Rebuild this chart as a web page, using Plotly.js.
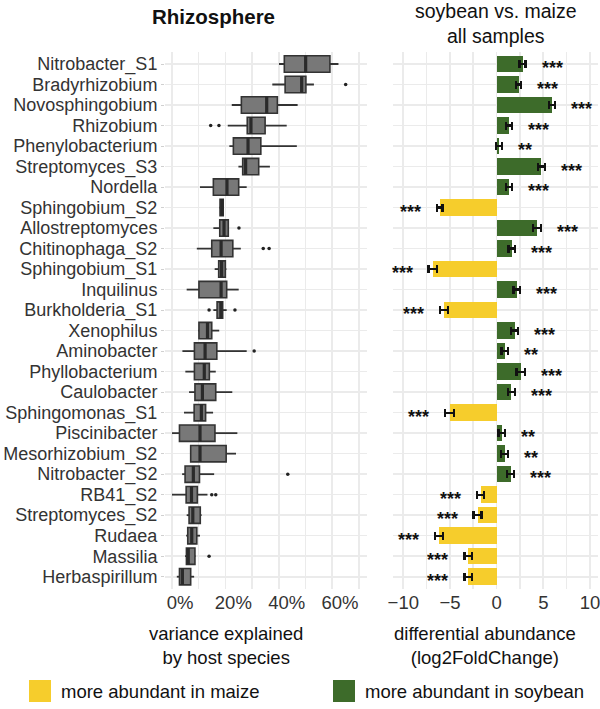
<!DOCTYPE html>
<html>
<head>
<meta charset="utf-8">
<script src="https://cdn.plot.ly/plotly-3.0.1.min.js"></script>
<style>html,body{margin:0;padding:0;background:#fff;}#chart{width:600px;height:709px;}</style>
</head>
<body>
<div id="chart"></div>
<script>
// ---- data ----
const categories = ["Nitrobacter_S1","Bradyrhizobium","Novosphingobium","Rhizobium","Phenylobacterium",
  "Streptomyces_S3","Nordella","Sphingobium_S2","Allostreptomyces","Chitinophaga_S2","Sphingobium_S1",
  "Inquilinus","Burkholderia_S1","Xenophilus","Aminobacter","Phyllobacterium","Caulobacter",
  "Sphingomonas_S1","Piscinibacter","Mesorhizobium_S2","Nitrobacter_S2","RB41_S2","Streptomyces_S2",
  "Rudaea","Massilia","Herbaspirillum"];
// variance explained by host species (%), box statistics
const lowerWhisker = [40.1,37.6,22.4,20.9,21.5,24.9,10.5,17.8,15.5,9.3,16.0,5.5,15.5,9.8,3.9,5.0,6.4,4.5,0.0,6.8,3.8,0.0,5.5,5.3,4.9,1.8];
const q1           = [42.1,42.4,26.0,28.2,23.0,26.5,15.5,18.0,17.9,14.9,17.5,10.1,16.9,10.1,8.4,8.4,8.6,8.3,2.8,7.0,4.9,5.3,6.4,5.9,5.4,2.8];
const medianVal    = [50.1,48.6,35.5,29.6,28.5,27.6,20.6,18.7,19.5,18.4,18.6,18.4,18.3,13.3,12.4,12.1,11.4,11.0,10.5,10.5,8.0,7.3,7.8,7.4,6.1,3.9];
const q3           = [59.2,50.2,39.5,34.9,33.3,32.5,25.0,19.2,21.1,22.8,20.0,20.5,19.0,14.9,16.8,14.0,16.4,12.6,16.1,20.3,10.3,9.5,10.6,9.3,8.6,7.0];
const upperWhisker = [62.4,53.2,47.1,43.0,46.8,36.7,28.0,19.4,21.3,25.8,20.4,25.0,20.5,17.7,28.0,16.4,22.6,15.4,24.5,24.0,15.8,13.3,11.1,10.5,8.8,8.3];
const outlierCategory = ["Bradyrhizobium","Rhizobium","Rhizobium","Allostreptomyces","Chitinophaga_S2","Chitinophaga_S2",
  "Burkholderia_S1","Burkholderia_S1","Aminobacter","Nitrobacter_S2","RB41_S2","RB41_S2","Massilia"];
const outlierValue = [65.1,14.5,17.6,25.1,34.2,36.4,13.9,23.6,30.8,43.4,14.9,16.4,13.9];
// differential abundance (log2FoldChange), soybean vs. maize
const log2FC = [2.78,2.35,5.93,1.32,0.25,4.78,1.32,-6.11,4.32,1.64,-6.86,2.14,-5.64,1.93,0.89,2.57,1.57,-5.04,0.57,0.86,1.50,-1.71,-2.04,-6.18,-3.04,-3.04];
const stdErr = [0.32,0.28,0.36,0.34,0.32,0.36,0.34,0.32,0.40,0.36,0.43,0.34,0.43,0.39,0.36,0.45,0.39,0.45,0.36,0.38,0.39,0.36,0.43,0.43,0.41,0.41];
const signif = ["***","***","***","***","**","***","***","***","***","***","***","***","***","***","**","***","***","***","**","**","***","***","***","***","***","***"];
const pctTicks = [0,20,40,60];
const pctTickLabels = ["0%","20%","40%","60%"];
const lfcTicks = [-10,-5,0,5,10];
const legendNames = ["more abundant in maize","more abundant in soybean"];
const panelTitles = ["Rhizosphere","soybean vs. maize<br>all samples"];
const axisTitles = ["variance explained<br>by host species","differential abundance<br>(log2FoldChange)"];

// ---- styles ----
const FONT = "Liberation Sans, Arial, Helvetica, sans-serif";
const GRID = "#ebebeb";
const BOXFILL = "#787878", BOXLINE = "#333333";
const YELLOW = "#f6cd2c", GREEN = "#3d6b2a";
const W = 600, H = 709;
const px = v => v / W, py = v => 1 - v / H;

const idx = categories.map((_, i) => i);
const catIndex = c => categories.indexOf(c);

// whiskers
const wx = [], wy = [];
idx.forEach(i => { wx.push(lowerWhisker[i], q1[i], null, q3[i], upperWhisker[i], null); wy.push(i, i, null, i, i, null); });
// medians
const mx = [], my = [];
const BW = 0.8;
idx.forEach(i => { mx.push(medianVal[i], medianVal[i], null); my.push(i - BW/2, i + BW/2, null); });

const traces = [
  {type:"scatter", mode:"lines", x:wx, y:wy, xaxis:"x", yaxis:"y", line:{color:BOXLINE, width:1.8}, hoverinfo:"skip", showlegend:false},
  {type:"bar", orientation:"h", y:idx, base:q1, x:idx.map(i => q3[i]-q1[i]), width:BW, xaxis:"x", yaxis:"y",
   marker:{color:BOXFILL, line:{color:BOXLINE, width:1.6}}, showlegend:false},
  {type:"scatter", mode:"lines", x:mx, y:my, xaxis:"x", yaxis:"y", line:{color:"#2a2a2a", width:3.2}, hoverinfo:"skip", showlegend:false},
  {type:"scatter", mode:"markers", x:outlierValue, y:outlierCategory.map(catIndex), xaxis:"x", yaxis:"y",
   marker:{color:"#222", size:3.5}, showlegend:false},
];
const neg = idx.filter(i => log2FC[i] < 0), pos = idx.filter(i => log2FC[i] >= 0);
[[neg, YELLOW, legendNames[0]], [pos, GREEN, legendNames[1]]].forEach(([sel, col, nm]) => {
  traces.push({type:"bar", orientation:"h", y:sel, x:sel.map(i => log2FC[i]), width:0.8, xaxis:"x2", yaxis:"y",
    marker:{color:col}, name:nm, showlegend:false,
    error_x:{type:"data", array:sel.map(i => stdErr[i]), color:"#111", thickness:2.2, width:4}});
});

const annotations = [];
idx.forEach(i => {
  const s = log2FC[i] >= 0 ? 1 : -1;
  annotations.push({xref:"x2", yref:"y", x:log2FC[i] + s*stdErr[i], y:i, text:"<b>"+signif[i]+"</b>", showarrow:false,
    xanchor: s > 0 ? "left" : "right", xshift: s*14, yshift:-4, font:{family:FONT, size:18, color:"#111"}});
});
annotations.push({xref:"paper", yref:"paper", x:px(213), y:py(17), text:"<b>"+panelTitles[0]+"</b>", showarrow:false,
  xanchor:"center", yanchor:"middle", font:{family:FONT, size:20.5, color:"#111"}});
annotations.push({xref:"paper", yref:"paper", x:px(496), y:py(24), text:panelTitles[1], showarrow:false,
  xanchor:"center", yanchor:"middle", font:{family:FONT, size:19.5, color:"#111"}});
annotations.push({xref:"paper", yref:"paper", x:px(226), y:py(645), text:axisTitles[0], showarrow:false,
  xanchor:"center", yanchor:"middle", font:{family:FONT, size:18.5, color:"#111"}});
annotations.push({xref:"paper", yref:"paper", x:px(485), y:py(645), text:axisTitles[1], showarrow:false,
  xanchor:"center", yanchor:"middle", font:{family:FONT, size:18.5, color:"#111"}});
// legend
const shapes = [];
[[29, YELLOW], [333, GREEN]].forEach(([x0, col], k) => {
  shapes.push({type:"rect", xref:"paper", yref:"paper", x0:px(x0), x1:px(x0+22), y0:py(702), y1:py(680), fillcolor:col, line:{width:0}});
  annotations.push({xref:"paper", yref:"paper", x:px(x0+30), y:py(691), text:legendNames[k], showarrow:false,
    xanchor:"left", yanchor:"middle", font:{family:FONT, size:18.5, color:"#111"}});
});

const yDomain = [py(589), py(51.7)];
const layout = {
  width:W, height:H, margin:{l:0, r:0, t:0, b:0}, paper_bgcolor:"#fff", plot_bgcolor:"#fff",
  showlegend:false, barmode:"overlay", bargap:0,
  font:{family:FONT, size:18.5, color:"#333"},
  xaxis:{domain:[px(165), px(367)], range:[-2.625, 73.1], tickvals:pctTicks, ticktext:pctTickLabels,
    showgrid:true, gridcolor:GRID, gridwidth:1.6, zeroline:false, showline:false, ticks:"",
    ticklabelshift:8, tickfont:{family:FONT, size:18.5, color:"#333"},
    minor:{dtick:10, tick0:0, showgrid:true, gridcolor:GRID, gridwidth:1.6}},
  xaxis2:{domain:[px(393), px(598)], range:[-11.1, 10.86], tickvals:lfcTicks, ticklabeloverflow:"allow",
    showgrid:true, gridcolor:GRID, gridwidth:1.6, zeroline:false, showline:false, ticks:"",
    tickfont:{family:FONT, size:18.5, color:"#333"},
    minor:{dtick:2.5, tick0:0, showgrid:true, gridcolor:GRID, gridwidth:1.6}},
  yaxis:{domain:yDomain, range:[25.6, -0.6], tickvals:idx, ticktext:categories, showgrid:true, gridcolor:GRID, gridwidth:1.6,
    zeroline:false, showline:false, ticks:"outside", ticklen:3, tickcolor:"#d0d0d0", tickwidth:1,
    tickfont:{family:FONT, size:18, color:"#333"}},
  yaxis2:{domain:yDomain, range:[25.6, -0.6], tickvals:idx, showticklabels:false, showgrid:true, gridcolor:GRID,
    gridwidth:1.6, zeroline:false, anchor:"x2", overlaying:"y"},
  annotations, shapes
};
traces.push({type:"scatter", x:[0], y:[0], xaxis:"x2", yaxis:"y2", mode:"markers", marker:{opacity:0}, hoverinfo:"skip", showlegend:false});
Plotly.newPlot("chart", traces, layout, {staticPlot:true});
</script>
</body>
</html>
